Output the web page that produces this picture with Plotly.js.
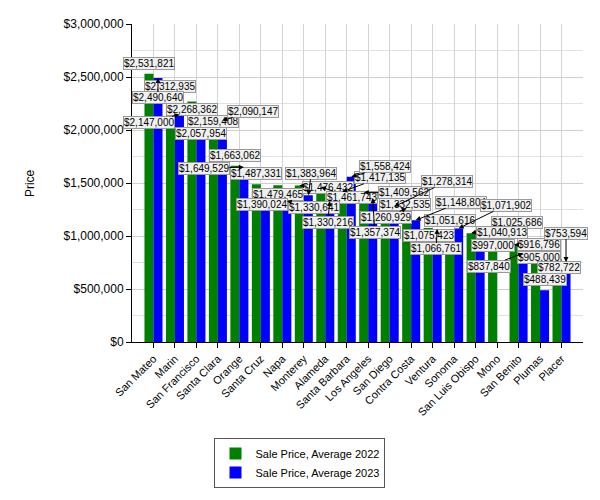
<!DOCTYPE html>
<html>
<head>
<meta charset="utf-8">
<script src="https://cdn.plot.ly/plotly-3.0.1.min.js"></script>
<style>
  html, body { margin: 0; padding: 0; background: #ffffff; }
  #chart { width: 600px; height: 500px; }
</style>
</head>
<body>
<div id="chart"></div>
<script>
// ---- data ----
const categories = ['San Mateo', 'Marin', 'San Francisco', 'Santa Clara', 'Orange', 'Santa Cruz', 'Napa',
  'Monterey', 'Alameda', 'Santa Barbara', 'Los Angeles', 'San Diego', 'Contra Costa', 'Ventura',
  'Sonoma', 'San Luis Obispo', 'Mono', 'San Benito', 'Plumas', 'Placer'];
const price2022 = [2531821, 2312935, 2268362, 2159408, 1663062, 1487331, 1479465,
  1476432, 1461743, 1417135, 1409562, 1332535, 1260929, 1075423,
  1051616, 1025686, 997000, 916796, 905000, 782722];
const price2023 = [2490640, 2147000, 2057954, 2090147, 1649529, 1390024, 1330641,
  1383964, 1330216, 1558424, 1357374, 1278314, 1148804, 1066761,
  1071902, 1040913, null, 837840, 488439, 753594];
const seriesNames = ['Sale Price, Average 2022', 'Sale Price, Average 2023'];
const yTickValues = [0, 500000, 1000000, 1500000, 2000000, 2500000, 3000000];

// ---- label placement (pixel offsets of each value box from its bar top; null = just above) ----
const labelShift2022 = [null, null, [0, 8], [0, 8], null, null, [0, 9], [29, 2], [31, 10], [38, -14],
  [40, 0], [20, 4], [-21, 9], [1, 7], null, [46, -11], [0, 9], [25, 0], [3, 11], [2, 8]];
const labelShift2023 = [[0, 20], [-30, 8], [0, 10], [31, -9], [-40, 1], [-3, 10], [27, 7], [3, -22], [-2, 21], [34, -10],
  [2, 34], [53, -25], [45, -18], [-1, 20], [47, -23], [22, 1], null, [-34, 13], null, [0, -29]];

const FONT = 'Liberation Sans, Arial, sans-serif';
const fmt = v => '$' + v.toLocaleString('en-US');

function makeLabels(values, shifts, barShift) {
  const out = [];
  values.forEach((v, i) => {
    if (v === null || v === undefined) return;
    const s = shifts[i];
    const base = {
      x: categories[i], y: v, xref: 'x', yref: 'y',
      text: fmt(v), xshift: barShift,
      font: { family: FONT, size: 10, color: '#000000' },
      bgcolor: '#f0f0f0', bordercolor: '#9a9a9a', borderwidth: 1, borderpad: 0
    };
    if (!s) {
      out.push(Object.assign(base, { showarrow: false, yanchor: 'bottom', yshift: 4 }));
    } else {
      const far = Math.hypot(s[0], s[1]) > 14;
      out.push(Object.assign(base, {
        showarrow: true, ax: s[0], ay: s[1],
        arrowhead: 2, arrowsize: 1, arrowwidth: 1,
        arrowcolor: far ? '#000000' : 'rgba(0,0,0,0)'
      }));
    }
  });
  return out;
}

const traces = [
  { type: 'bar', name: seriesNames[0], x: categories, y: price2022,
    marker: { color: '#008000' }, hoverinfo: 'x+y' },
  { type: 'bar', name: seriesNames[1], x: categories, y: price2023,
    marker: { color: '#0000ff' }, hoverinfo: 'x+y' }
];

const annotations = []
  .concat(makeLabels(price2022, labelShift2022, -4.5))
  .concat(makeLabels(price2023, labelShift2023, 4.5));

annotations.push({
  text: 'Price', xref: 'paper', yref: 'paper', x: -0.226, y: 0.5,
  xanchor: 'center', yanchor: 'middle', textangle: -90, showarrow: false,
  font: { family: FONT, size: 12, color: '#000000' }
});

const layout = {
  width: 600, height: 500,
  margin: { l: 132, r: 17, t: 24, b: 158, autoexpand: false },
  paper_bgcolor: '#ffffff',
  plot_bgcolor: '#ffffff',
  barmode: 'group', bargap: 0.16, bargroupgap: 0,
  font: { family: FONT, size: 11, color: '#000000' },
  showlegend: true,
  legend: {
    x: 0.3725, y: -0.3805, xanchor: 'center', yanchor: 'middle',
    orientation: 'v', bgcolor: '#ffffff', bordercolor: '#555555', borderwidth: 1,
    font: { family: FONT, size: 11, color: '#000000' },
    tracegroupgap: 0
  },
  xaxis: {
    type: 'category', range: [-1, 20], tickangle: -45,
    showline: true, linecolor: '#000000', linewidth: 1,
    ticks: 'outside', ticklen: 5, tickcolor: '#000000',
    showgrid: true, gridcolor: '#d4d4d4', gridwidth: 1,
    tickfont: { family: FONT, size: 11, color: '#000000' },
    automargin: false, fixedrange: true
  },
  yaxis: {
    range: [0, 3000000], tickvals: yTickValues,
    ticktext: yTickValues.map(fmt),
    showline: true, linecolor: '#000000', linewidth: 1,
    ticks: 'outside', ticklen: 5, tickcolor: '#000000',
    showgrid: true, gridcolor: '#cfcfcf', gridwidth: 1,
    minor: { dtick: 250000, showgrid: true, gridcolor: '#e2e2e2', ticks: '' },
    zeroline: false,
    tickfont: { family: FONT, size: 12, color: '#000000' },
    automargin: false, fixedrange: true
  },
  annotations: annotations
};

Plotly.newPlot('chart', traces, layout, { displayModeBar: false, staticPlot: true });
</script>
</body>
</html>
